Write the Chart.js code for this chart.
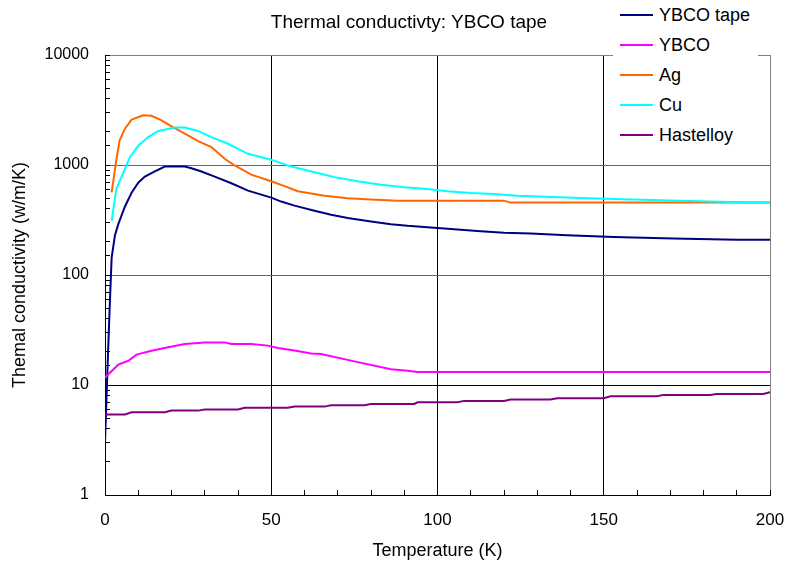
<!DOCTYPE html>
<html>
<head>
<meta charset="utf-8">
<script src="https://cdn.jsdelivr.net/npm/chart.js@4.4.0/dist/chart.umd.min.js"></script>
<style>
    body { margin: 0; background: #fff; font-family: "Liberation Sans", Arial, sans-serif; }
    #wrap { position: relative; width: 788px; height: 566px; }
    #title { position: absolute; left: 409px; top: 10px; transform: translateX(-50%); font-size: 19px; line-height: 24px; white-space: nowrap; color: #000; }
    #legend { position: absolute; left: 613px; top: 0; width: 145px; height: 150px; background: #fff; }
    #legend .item { position: absolute; left: 0; height: 30px; width: 145px; line-height: 30px; font-size: 18px; color: #000; white-space: nowrap; }
    #legend .swatch { position: absolute; left: 7px; top: 14px; width: 33px; height: 2px; }
    #legend .label { position: absolute; left: 46px; top: 0; }
</style>
</head>
<body>
<div id="wrap">
    <canvas id="thermalChart" width="788" height="566"></canvas>
    <div id="title">Thermal conductivty: YBCO tape</div>
    <div id="legend"></div>
</div>
<script>
// temperature (K) / conductivity (W/m/K)
const tapeT = [0, 0.9, 1.4, 2, 3, 4, 6, 8, 10, 12, 15, 18, 24, 26, 29, 33, 38, 43, 50, 53, 57, 63, 68, 73, 80, 86, 91, 95, 100, 106, 113, 120, 128, 139, 153, 171, 190, 200];
const tapeK = [3, 19, 50, 144, 230, 290, 420, 560, 690, 785, 877, 968, 968, 935, 872, 785, 682, 585, 505, 465, 427, 384, 353, 330, 307, 290, 280, 274, 267, 259, 250, 242, 238, 230, 222, 215, 209, 209];

const ybcoT = [0, 4, 7, 9.5, 14, 19, 24, 30, 36, 38, 44, 49, 52, 57, 62, 65, 75, 86, 91, 94, 200];
const ybcoK = [11.7, 15.3, 16.6, 18.9, 20.5, 22, 23.6, 24.4, 24.4, 23.6, 23.6, 22.8, 21.7, 20.6, 19.3, 19.1, 16.4, 13.9, 13.5, 13.1, 13.1];

const agT = [2, 3.4, 4.4, 6, 8, 11.5, 14, 17, 20, 24, 28, 32, 36, 39, 44, 50, 53, 58, 66, 73, 80, 88, 120, 122, 200];
const agK = [564, 1100, 1675, 2140, 2590, 2830, 2800, 2550, 2250, 1930, 1650, 1455, 1140, 990, 818, 711, 659, 577, 526, 498, 485, 474, 474, 455, 455];

const cuT = [2, 3.4, 6, 7.5, 10, 13, 16, 21, 24, 28, 32, 37, 43, 50, 53, 56, 63, 70, 76, 83, 90, 97, 103, 110, 117, 124, 143, 156, 173, 194, 200];
const cuK = [311, 606, 920, 1178, 1500, 1795, 2040, 2190, 2190, 2040, 1795, 1560, 1265, 1115, 1040, 968, 860, 764, 711, 663, 627, 606, 577, 557, 546, 526, 502, 488, 474, 455, 455];

const hastT = [0, 6, 8, 18, 20, 28, 30, 40, 42, 55, 57, 66, 68, 78, 80, 93, 94, 106, 108, 120, 122, 134, 136, 150, 152, 166, 168, 182, 184, 198, 200];
const hastK = [5.4, 5.4, 5.65, 5.65, 5.85, 5.85, 6.0, 6.0, 6.2, 6.2, 6.36, 6.36, 6.54, 6.54, 6.73, 6.73, 6.97, 6.97, 7.17, 7.17, 7.37, 7.37, 7.58, 7.58, 7.9, 7.9, 8.13, 8.13, 8.3, 8.3, 8.6];

const seriesNames = ['YBCO tape', 'YBCO', 'Ag', 'Cu', 'Hastelloy'];
const seriesColors = ['#000080', '#ff00ff', '#ff6600', '#00ffff', '#800080'];
const seriesT = [tapeT, ybcoT, agT, cuT, hastT];
const seriesK = [tapeK, ybcoK, agK, cuK, hastK];

const yLabels = [1, 10, 100, 1000, 10000];
const xLabels = [0, 50, 100, 150, 200];

Chart.defaults.font.family = '"Liberation Sans", Arial, sans-serif';
Chart.defaults.color = '#000';

let datasets = seriesNames.map(function(name, i) {
    return {
        label: name,
        data: seriesT[i].map((t, j) => ({x: t, y: seriesK[i][j]})),
        borderColor: seriesColors[i],
        backgroundColor: seriesColors[i],
        borderWidth: 2,
        pointRadius: 0,
        tension: 0,
        fill: false,
        order: -i
    };
});

let ctx = document.getElementById('thermalChart').getContext('2d');

new Chart(ctx, {
    type: 'line',
    data: {datasets: datasets},
    options: {
        responsive: false,
        animation: false,
        layout: {padding: {top: 55, right: 0, left: 0, bottom: 0}},
        plugins: {
            legend: {display: false},
            tooltip: {enabled: false}
        },
        scales: {
            x: {
                type: 'linear',
                min: 0,
                max: 200,
                afterFit: function(scale) {
                    scale.height = 71;
                    scale.paddingLeft = 0;
                    scale.paddingRight = 18;
                },
                ticks: {
                    stepSize: 10,
                    padding: 20,
                    maxRotation: 0,
                    autoSkip: false,
                    font: {size: 17},
                    callback: v => xLabels.includes(v) ? String(v) : ''
                },
                grid: {
                    tickLength: -5,
                    color: function(c) {
                        let v = c.tick && c.tick.value;
                        if (v === 200) return '#808080';
                        if (v > 0 && v % 50 === 0) return '#000';
                        return 'rgba(0,0,0,0)';
                    },
                    tickColor: '#000'
                },
                border: {color: '#000', width: 1},
                title: {
                    display: true,
                    text: 'Temperature (K)',
                    font: {size: 18},
                    padding: {top: 0, bottom: 4}
                }
            },
            y: {
                type: 'logarithmic',
                min: 1,
                max: 10000,
                afterFit: function(scale) { scale.width = 105; },
                ticks: {
                    padding: 21,
                    autoSkip: false,
                    font: {size: 16},
                    callback: v => yLabels.includes(v) ? String(v) : ''
                },
                grid: {
                    tickLength: -5,
                    color: function(c) {
                        let v = c.tick && c.tick.value;
                        if (v === 10) return '#000';
                        if (v === 100 || v === 1000) return '#666';
                        if (v === 10000) return '#808080';
                        return 'rgba(0,0,0,0)';
                    },
                    tickColor: '#000'
                },
                border: {color: '#000', width: 1},
                title: {
                    display: true,
                    text: 'Themal conductivity (w/m/K)',
                    font: {size: 18},
                    padding: {top: 9, bottom: 0}
                }
            }
        }
    }
});

// legend drawn as html, floating over the top right corner like the original
let legend = document.getElementById('legend');
seriesNames.forEach(function(name, i) {
    let item = document.createElement('div');
    item.className = 'item';
    item.style.top = (30 * i) + 'px';
    item.innerHTML = `<span class="swatch" style="background:${seriesColors[i]}"></span><span class="label">${name}</span>`;
    legend.appendChild(item);
});
</script>
</body>
</html>
